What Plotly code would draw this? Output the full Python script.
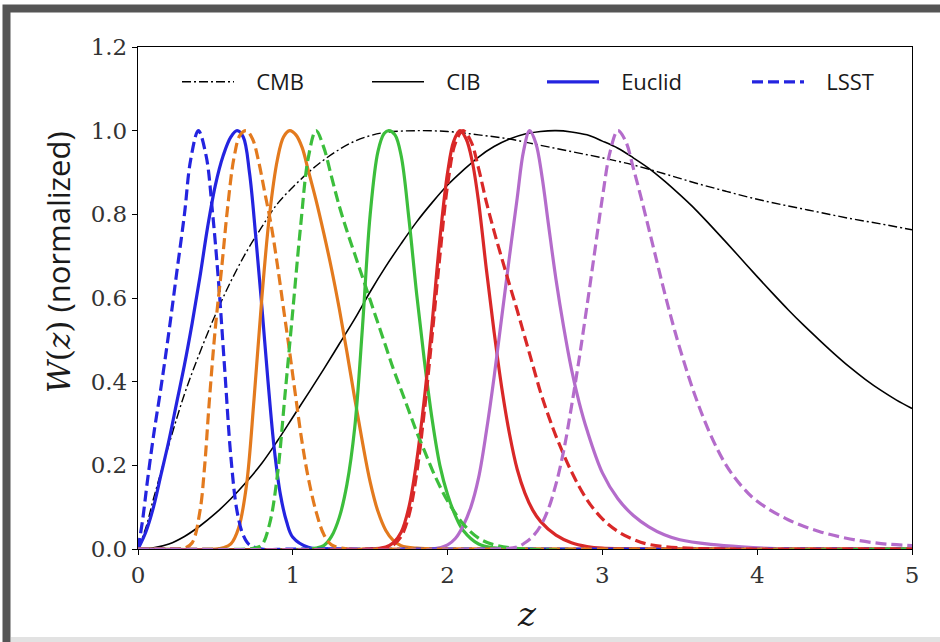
import plotly.graph_objects as go

# ---------------- data ----------------
cmb_z = [0, 0.05, 0.1, 0.2, 0.3, 0.4, 0.5, 0.6, 0.7, 0.8, 0.9, 1.0, 1.1, 1.2, 1.3, 1.4, 1.5, 1.6, 1.8,
         2.0, 2.2, 2.4, 2.6, 2.8, 3.0, 3.2, 3.4, 3.6, 3.8, 4.0, 4.2, 4.4, 4.6, 4.8, 5.0]
cmb_w = [0, 0.05, 0.12, 0.25, 0.37, 0.47, 0.56, 0.64, 0.71, 0.77, 0.825, 0.865, 0.9, 0.93, 0.955, 0.975,
         0.988, 0.996, 1.0, 0.998, 0.99, 0.98, 0.965, 0.95, 0.935, 0.918, 0.897, 0.875, 0.855, 0.836, 0.82,
         0.805, 0.79, 0.777, 0.763]

cib_z = [0, 0.1, 0.2, 0.3, 0.4, 0.5, 0.6, 0.7, 0.8, 0.9, 1.0, 1.1, 1.2, 1.3, 1.4, 1.5, 1.6, 1.7, 1.8, 1.9,
         2.0, 2.1, 2.2, 2.3, 2.4, 2.5, 2.6, 2.7, 2.8, 2.9, 3.0, 3.1, 3.2, 3.3, 3.4, 3.5, 3.6, 3.7, 3.8, 3.9,
         4.0, 4.1, 4.2, 4.3, 4.4, 4.5, 4.6, 4.7, 4.8, 4.9, 5.0]
cib_w = [0, 0.003, 0.012, 0.03, 0.055, 0.085, 0.12, 0.16, 0.205, 0.258, 0.315, 0.372, 0.43, 0.49, 0.55,
         0.615, 0.675, 0.73, 0.782, 0.828, 0.87, 0.905, 0.937, 0.962, 0.98, 0.992, 0.998, 1.0, 0.997, 0.99,
         0.975, 0.958, 0.935, 0.91, 0.88, 0.847, 0.812, 0.773, 0.733, 0.692, 0.651, 0.611, 0.572, 0.535,
         0.5, 0.466, 0.434, 0.405, 0.379, 0.356, 0.336]

# Euclid bins (solid)
euclid1_z = [0, 0.05, 0.1, 0.15, 0.2, 0.25, 0.3, 0.35, 0.4, 0.45, 0.5, 0.55, 0.6, 0.64, 0.68, 0.72, 0.76,
             0.8, 0.84, 0.88, 0.92, 0.96, 1.0, 1.1, 1.3, 5.0]
euclid1_w = [0, 0.04, 0.1, 0.18, 0.26, 0.35, 0.44, 0.54, 0.65, 0.77, 0.87, 0.94, 0.985, 1.0, 0.985, 0.9,
             0.75, 0.58, 0.4, 0.24, 0.13, 0.065, 0.028, 0.004, 0, 0]

euclid2_z = [0, 0.5, 0.55, 0.6, 0.65, 0.7, 0.75, 0.8, 0.85, 0.9, 0.94, 0.98, 1.02, 1.06, 1.1, 1.15, 1.2,
             1.25, 1.3, 1.35, 1.4, 1.45, 1.5, 1.55, 1.6, 1.65, 1.7, 1.8, 2.0, 5.0]
euclid2_w = [0, 0, 0.003, 0.012, 0.05, 0.15, 0.36, 0.6, 0.8, 0.93, 0.985, 1.0, 0.99, 0.96, 0.905, 0.834,
             0.755, 0.67, 0.575, 0.47, 0.36, 0.255, 0.16, 0.09, 0.045, 0.02, 0.008, 0.002, 0, 0]

euclid3_z = [0, 1.1, 1.15, 1.2, 1.25, 1.3, 1.35, 1.4, 1.45, 1.5, 1.55, 1.59, 1.62, 1.66, 1.7, 1.75, 1.8,
             1.85, 1.9, 1.95, 2.0, 2.05, 2.1, 2.2, 2.3, 2.5, 5.0]
euclid3_w = [0, 0, 0.002, 0.008, 0.03, 0.075, 0.155, 0.29, 0.53, 0.8, 0.95, 0.993, 1.0, 0.99, 0.94, 0.79,
             0.61, 0.45, 0.31, 0.2, 0.13, 0.08, 0.045, 0.012, 0.003, 0, 0]

euclid4_z = [0, 1.5, 1.6, 1.65, 1.7, 1.75, 1.8, 1.85, 1.9, 1.95, 2.0, 2.04, 2.08, 2.12, 2.16, 2.2, 2.25,
             2.3, 2.35, 2.4, 2.45, 2.5, 2.55, 2.6, 2.7, 2.8, 2.9, 3.0, 3.3, 5.0]
euclid4_w = [0, 0, 0.005, 0.015, 0.04, 0.1, 0.21, 0.36, 0.54, 0.74, 0.9, 0.975, 1.0, 0.98, 0.925, 0.83,
             0.67, 0.52, 0.385, 0.275, 0.19, 0.133, 0.093, 0.066, 0.033, 0.015, 0.006, 0.002, 0, 0]

euclid5_z = [0, 1.9, 2.0, 2.05, 2.1, 2.15, 2.2, 2.25, 2.3, 2.35, 2.4, 2.45, 2.49, 2.53, 2.57, 2.61, 2.65,
             2.7, 2.75, 2.8, 2.85, 2.9, 3.0, 3.1, 3.2, 3.3, 3.4, 3.5, 3.7, 3.9, 4.2, 5.0]
euclid5_w = [0, 0, 0.01, 0.025, 0.055, 0.1, 0.17, 0.28, 0.41, 0.555, 0.7, 0.84, 0.95, 1.0, 0.97, 0.89,
             0.78, 0.645, 0.53, 0.43, 0.35, 0.285, 0.182, 0.12, 0.08, 0.053, 0.034, 0.022, 0.011, 0.005, 0, 0]

# LSST bins (dashed)
lsst1_z = [0, 0.03, 0.06, 0.1, 0.15, 0.2, 0.25, 0.3, 0.34, 0.39, 0.44, 0.48, 0.52, 0.56, 0.6, 0.64,
           0.68, 0.72, 0.8, 1.0, 5.0]
lsst1_w = [0, 0.07, 0.16, 0.27, 0.39, 0.52, 0.66, 0.8, 0.93, 1.0, 0.94, 0.81, 0.64, 0.43, 0.22, 0.09,
           0.033, 0.01, 0, 0, 0]

lsst2_z = [0, 0.25, 0.3, 0.35, 0.4, 0.43, 0.46, 0.5, 0.54, 0.58, 0.62, 0.66, 0.7, 0.74, 0.78, 0.82, 0.86,
           0.9, 0.94, 0.98, 1.02, 1.06, 1.1, 1.15, 1.2, 1.25, 1.35, 1.5, 5.0]
lsst2_w = [0, 0, 0.002, 0.015, 0.09, 0.196, 0.35, 0.53, 0.67, 0.82, 0.935, 0.99, 1.0, 0.98, 0.925, 0.85,
           0.775, 0.68, 0.575, 0.47, 0.36, 0.255, 0.17, 0.09, 0.035, 0.01, 0, 0, 0]

lsst3_z = [0, 0.7, 0.75, 0.8, 0.85, 0.9, 0.95, 1.0, 1.05, 1.1, 1.15, 1.2, 1.25, 1.3, 1.35, 1.4, 1.45,
           1.5, 1.55, 1.6, 1.65, 1.7, 1.75, 1.8, 1.85, 1.9, 1.95, 2.0, 2.1, 2.2, 2.3, 2.5, 5.0]
lsst3_w = [0, 0, 0.002, 0.01, 0.06, 0.175, 0.37, 0.57, 0.77, 0.935, 1.0, 0.96, 0.89, 0.82, 0.76, 0.705,
           0.65, 0.595, 0.54, 0.485, 0.43, 0.38, 0.33, 0.28, 0.235, 0.19, 0.15, 0.115, 0.06, 0.026, 0.01, 0,
           0]

lsst4_z = [0, 1.5, 1.6, 1.65, 1.7, 1.75, 1.8, 1.85, 1.9, 1.95, 2.0, 2.05, 2.1, 2.15, 2.2, 2.25, 2.3, 2.35,
           2.4, 2.45, 2.5, 2.55, 2.6, 2.65, 2.7, 2.8, 2.9, 3.0, 3.1, 3.2, 3.3, 3.5, 3.8, 5.0]
lsst4_w = [0, 0, 0.003, 0.01, 0.03, 0.08, 0.18, 0.33, 0.51, 0.7, 0.87, 0.97, 1.0, 0.975, 0.91, 0.83,
           0.76, 0.695, 0.632, 0.57, 0.505, 0.44, 0.375, 0.32, 0.27, 0.185, 0.118, 0.072, 0.042, 0.023, 0.011,
           0.003, 0, 0]

lsst5_z = [0, 2.3, 2.45, 2.5, 2.55, 2.6, 2.65, 2.7, 2.75, 2.8, 2.85, 2.9, 2.95, 3.0, 3.05, 3.1, 3.15, 3.2,
           3.25, 3.3, 3.35, 3.4, 3.45, 3.5, 3.6, 3.7, 3.8, 3.9, 4.0, 4.2, 4.4, 4.6, 4.8, 5.0]
lsst5_w = [0, 0, 0.005, 0.015, 0.03, 0.055, 0.095, 0.155, 0.235, 0.34, 0.455, 0.58, 0.71, 0.84, 0.95, 1.0,
           0.975, 0.91, 0.84, 0.765, 0.69, 0.615, 0.545, 0.48, 0.365, 0.272, 0.2, 0.15, 0.114, 0.07, 0.042,
           0.024, 0.013, 0.008]

bin_colors = ["#2424e0", "#e37a1e", "#3cbe3c", "#d92828", "#b46ccb"]

x_ticks = [0, 1, 2, 3, 4, 5]
y_ticks = [0.0, 0.2, 0.4, 0.6, 0.8, 1.0, 1.2]
y_tick_text = ["0.0", "0.2", "0.4", "0.6", "0.8", "1.0", "1.2"]

# ---------------- figure ----------------
L, R, T, B = 138, 28, 47, 93
W, H = 940, 642
PW, PH = W - L - R, H - T - B


def px_x(p):
    return (p - L) / PW


def px_y(p):
    return (H - B - p) / PH


NB = "\u00a0\u00a0\u00a0"
fig = go.Figure()

fig.add_trace(go.Scatter(x=cmb_z, y=cmb_w, name=NB + "CMB", mode="lines", legend="legend",
                         line=dict(color="black", width=1.4, dash="9px,3px,2px,3px", shape="spline",
                                   smoothing=1.0)))
fig.add_trace(go.Scatter(x=cib_z, y=cib_w, name=NB + "CIB", mode="lines", legend="legend2",
                         line=dict(color="black", width=1.6, shape="spline", smoothing=1.0)))

euclid = [(euclid1_z, euclid1_w), (euclid2_z, euclid2_w), (euclid3_z, euclid3_w),
          (euclid4_z, euclid4_w), (euclid5_z, euclid5_w)]
lsst = [(lsst1_z, lsst1_w), (lsst2_z, lsst2_w), (lsst3_z, lsst3_w),
        (lsst4_z, lsst4_w), (lsst5_z, lsst5_w)]

for i, (zz, ww) in enumerate(euclid):
    fig.add_trace(go.Scatter(x=zz, y=ww, name=NB + "Euclid", mode="lines", showlegend=(i == 0),
                             legend="legend3",
                             line=dict(color=bin_colors[i], width=3.2, shape="spline", smoothing=1.0)))
for i, (zz, ww) in enumerate(lsst):
    fig.add_trace(go.Scatter(x=zz, y=ww, name=NB + "LSST", mode="lines", showlegend=(i == 0),
                             legend="legend4",
                             line=dict(color=bin_colors[i], width=3.2, dash="11px,5px", shape="spline",
                                       smoothing=1.0)))

serif = "DejaVu Serif"
frame_color = "#555555"
txt = "#1a1a1a"


def leg(xpix):
    return dict(orientation="h", x=px_x(xpix), y=px_y(82), xanchor="left", yanchor="middle",
                bgcolor="rgba(0,0,0,0)", borderwidth=0,
                font=dict(family="Open Sans", size=22, color=txt), itemwidth=52)


fig.update_layout(
    width=W, height=H,
    margin=dict(l=L, r=R, t=T, b=B),
    paper_bgcolor="white", plot_bgcolor="white",
    showlegend=True,
    legend=leg(177), legend2=leg(367), legend3=leg(542), legend4=leg(747),
    xaxis=dict(range=[0, 5], tickvals=x_ticks, ticktext=[str(t) for t in x_ticks],
               showgrid=False, zeroline=False, showline=True, linecolor="black", linewidth=1.3,
               mirror=True, ticks="outside", ticklen=5, tickwidth=1.2, tickcolor="black",
               tickfont=dict(family=serif, size=23, color="#333")),
    yaxis=dict(range=[0, 1.2], tickvals=y_ticks, ticktext=y_tick_text,
               showgrid=False, zeroline=False, showline=True, linecolor="black", linewidth=1.3,
               mirror=True, ticks="outside", ticklen=5, tickwidth=1.2, tickcolor="black",
               tickfont=dict(family=serif, size=23, color="#333")),
    annotations=[
        dict(text="<i>z</i>", xref="paper", yref="paper", x=px_x(527), y=px_y(614), xanchor="center",
             yanchor="middle", showarrow=False, font=dict(family=serif, size=34, color=txt)),
        dict(text="<span style='font-family:DejaVu Serif'><i>W</i>(<i>z</i>)</span> "
                  "<span style='font-family:Open Sans'>(normalized)</span>",
             xref="paper", yref="paper", x=px_x(58), y=px_y(262), textangle=-90, xanchor="center",
             yanchor="middle", showarrow=False, font=dict(family="Open Sans", size=31, color=txt)),
    ],
    shapes=[
        dict(type="rect", xref="paper", yref="paper", x0=px_x(6.5), x1=px_x(1000), y0=px_y(720),
             y1=px_y(8.5), line=dict(color=frame_color, width=8), fillcolor="rgba(0,0,0,0)",
             layer="below"),
        dict(type="rect", xref="paper", yref="paper", x0=px_x(11), x1=px_x(1000), y0=px_y(660),
             y1=px_y(637), line=dict(width=0), fillcolor="#e2e2e2", layer="below"),
    ],
)

fig.write_html("out.html", config={"displayModeBar": False},
               post_script="document.body.style.margin='0px';document.body.style.overflow='hidden';")
